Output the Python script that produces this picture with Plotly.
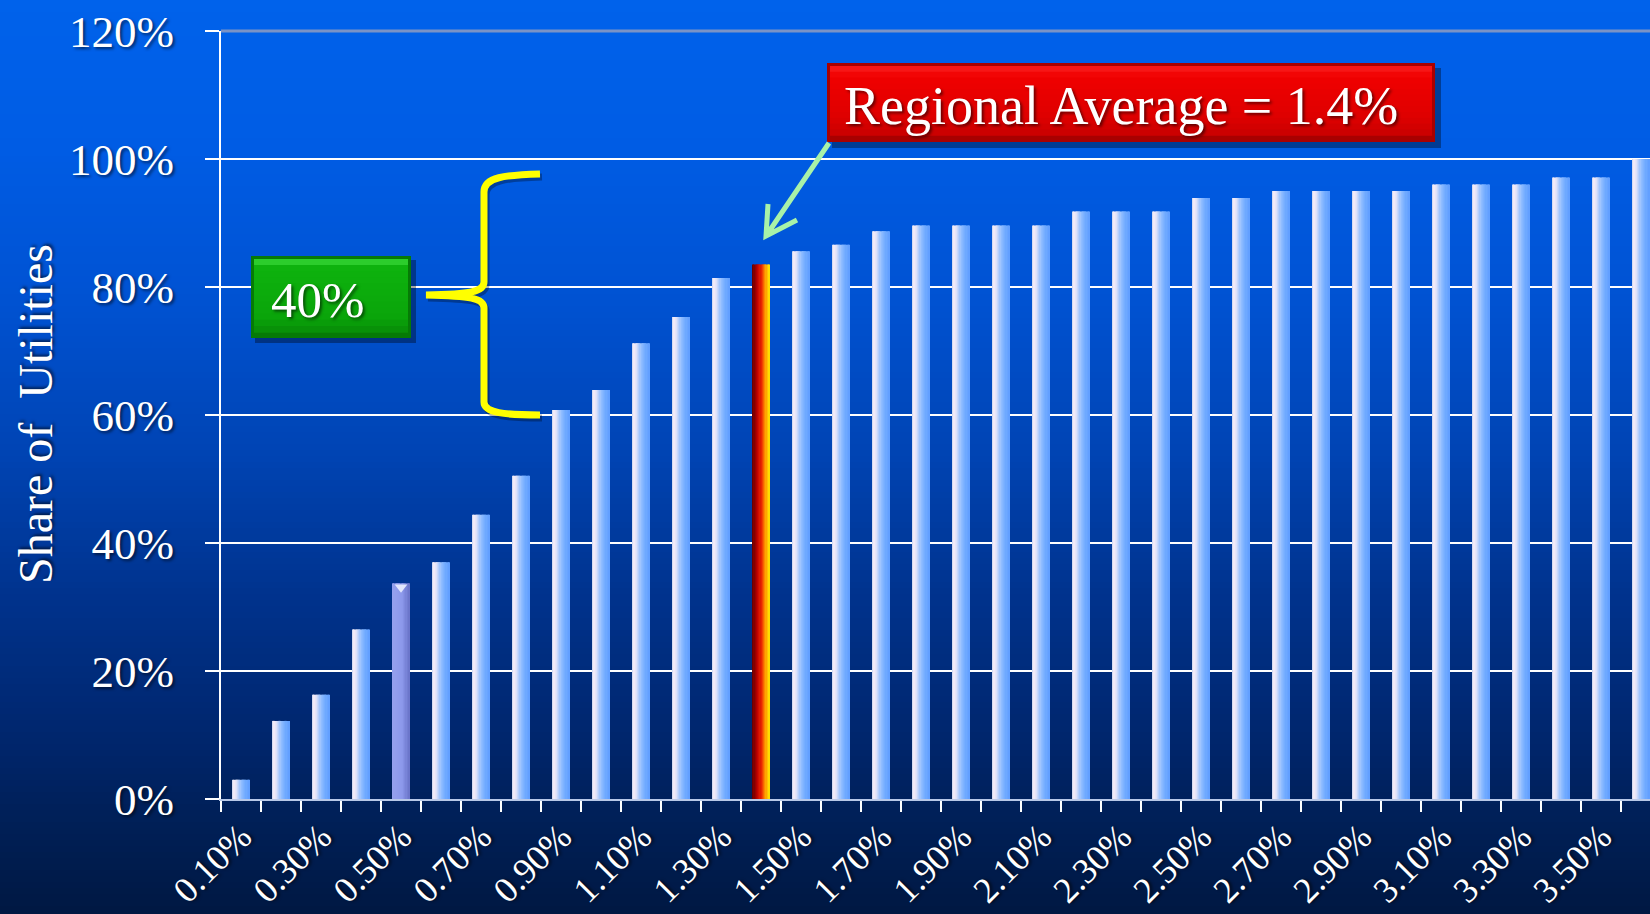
import plotly.graph_objects as go

# ---------------- data ----------------
categories = ["0.10%", "0.20%", "0.30%", "0.40%", "0.50%", "0.60%", "0.70%", "0.80%",
              "0.90%", "1.00%", "1.10%", "1.20%", "1.30%", "1.40%", "1.50%", "1.60%",
              "1.70%", "1.80%", "1.90%", "2.00%", "2.10%", "2.20%", "2.30%", "2.40%",
              "2.50%", "2.60%", "2.70%", "2.80%", "2.90%", "3.00%", "3.10%", "3.20%",
              "3.30%", "3.40%", "3.50%", "3.60%"]
share_of_utilities = [3.0, 12.2, 16.3, 26.5, 33.7, 37.0, 44.4, 50.5,
                      60.8, 63.9, 71.2, 75.3, 81.4, 83.5, 85.6, 86.6,
                      88.7, 89.6, 89.6, 89.6, 89.6, 91.8, 91.8, 91.8,
                      93.9, 93.9, 95.0, 95.0, 95.0, 95.0, 96.0, 96.0,
                      96.0, 97.1, 97.1, 100.0]
tick_labels = categories[::2]
y_ticks = [0, 20, 40, 60, 80, 100, 120]
y_tick_labels = ["0%", "20%", "40%", "60%", "80%", "100%", "120%"]
regional_avg_category = "1.40%"
marked_category = "0.50%"
callout_text = "Regional Average = 1.4%"
bracket_text = "40%"
y_title = "Share of\u00a0 Utilities"

# ---------------- geometry helpers (pixels -> paper) ----------------
W_PX, H_PX = 1650, 914
PL, PR, PT, PB = 221, 1650, 31, 799


def px(x):
    return (x - PL) / (PR - PL)


def py(y):
    return (PB - y) / (PB - PT)


def lerp_color(stops, t):
    for (t0, c0), (t1, c1) in zip(stops[:-1], stops[1:]):
        if t0 <= t <= t1:
            f = 0 if t1 == t0 else (t - t0) / (t1 - t0)
            return tuple(round(a + (b - a) * f) for a, b in zip(c0, c1))
    return stops[-1][1]


def rgb(c, a=None):
    if a is None:
        return "rgb(%d,%d,%d)" % c
    return "rgba(%d,%d,%d,%.2f)" % (c + (a,))


shapes = []

# background vertical gradient
bg_stops = [(0, (0, 98, 235)), (150, (0, 92, 228)), (300, (0, 82, 210)),
            (450, (0, 68, 180)), (600, (0, 50, 140)), (750, (0, 37, 106)),
            (800, (0, 33, 92)), (914, (0, 24, 66))]
step = 6
for row in range(0, H_PX, step):
    c = lerp_color(bg_stops, row + step / 2)
    shapes.append(dict(type="rect", xref="paper", yref="paper",
                       x0=px(0), x1=px(W_PX), y0=py(row + step + 1), y1=py(row),
                       fillcolor=rgb(c), line=dict(width=0), layer="below"))

# ---------------- bars with horizontal gradient (stripes) ----------------
normal_stops = [(0, (196, 210, 240)), (0.1, (242, 234, 248)), (0.25, (220, 225, 250)),
                (0.5, (150, 192, 255)), (0.8, (112, 170, 255)), (1, (96, 158, 255))]
red_stops = [(0, (95, 0, 0)), (0.3, (190, 0, 0)), (0.55, (235, 40, 0)), (0.78, (255, 150, 0)), (1, (255, 235, 0))]
purple_stops = [(0, (150, 160, 238)), (0.6, (140, 152, 235)), (1, (105, 115, 200))]

x_idx = list(range(len(categories)))
i_red = categories.index(regional_avg_category)
i_purple = categories.index(marked_category)

BAR_W = 0.42
N = 14
traces = []
for k in range(N):
    t = (k + 0.5) / N
    colors = []
    for i in x_idx:
        if i == i_red:
            colors.append(rgb(lerp_color(red_stops, t)))
        elif i == i_purple:
            colors.append(rgb(lerp_color(purple_stops, t)))
        else:
            colors.append(rgb(lerp_color(normal_stops, t)))
    w = BAR_W / N
    traces.append(go.Bar(x=x_idx, y=share_of_utilities, offset=-BAR_W / 2 + k * w,
                         width=w * (1.3 if k < N - 1 else 1.0),
                         marker=dict(color=colors, line=dict(width=0)),
                         hoverinfo="skip", showlegend=False))

# small notch on the marked bar
traces.append(go.Scatter(x=[i_purple], y=[share_of_utilities[i_purple] - 0.6], mode="markers",
                         marker=dict(symbol="triangle-down", size=11, color="rgba(235,240,255,0.9)",
                                     line=dict(width=0)),
                         hoverinfo="skip", showlegend=False))

fig = go.Figure(traces)

# top border line (gray)
shapes.append(dict(type="line", xref="paper", yref="paper", x0=0, x1=1, y0=1, y1=1,
                   line=dict(color="#7A93C6", width=3)))

# ---------------- callout boxes ----------------
# red box
rb = (827, 63, 1435, 142)
shapes.append(dict(type="rect", xref="paper", yref="paper", x0=px(rb[0] + 5), x1=px(rb[2] + 6),
                   y0=py(rb[3] + 6), y1=py(rb[1] + 5), fillcolor="rgba(0,0,0,0.35)", line=dict(width=0)))
shapes.append(dict(type="rect", xref="paper", yref="paper", x0=px(rb[0]), x1=px(rb[2]),
                   y0=py(rb[3]), y1=py(rb[1]), fillcolor="#A80000", line=dict(width=0)))
red_box_stops = [(0, (250, 30, 30)), (0.15, (240, 0, 0)), (0.75, (222, 0, 0)), (1, (200, 0, 0))]
nb = 12
y_top, y_bot = rb[1] + 3, rb[3] - 7
for j in range(nb):
    c = lerp_color(red_box_stops, (j + 0.5) / nb)
    ya = y_top + (y_bot - y_top) * j / nb
    yb = y_top + (y_bot - y_top) * (j + 1) / nb + 0.8
    shapes.append(dict(type="rect", xref="paper", yref="paper", x0=px(rb[0] + 3), x1=px(rb[2] - 3),
                       y0=py(yb), y1=py(ya), fillcolor=rgb(c), line=dict(width=0)))

# green box
gb = (251, 256, 411, 338)
shapes.append(dict(type="rect", xref="paper", yref="paper", x0=px(gb[0] + 4), x1=px(gb[2] + 5),
                   y0=py(gb[3] + 5), y1=py(gb[1] + 4), fillcolor="rgba(0,0,0,0.35)", line=dict(width=0)))
shapes.append(dict(type="rect", xref="paper", yref="paper", x0=px(gb[0]), x1=px(gb[2]),
                   y0=py(gb[3]), y1=py(gb[1]), fillcolor="#067A06", line=dict(width=0)))
green_stops = [(0, (60, 220, 60)), (0.12, (14, 178, 14)), (0.8, (10, 165, 10)), (1, (8, 140, 8))]
y_top, y_bot = gb[1] + 3, gb[3] - 6
for j in range(nb):
    c = lerp_color(green_stops, (j + 0.5) / nb)
    ya = y_top + (y_bot - y_top) * j / nb
    yb = y_top + (y_bot - y_top) * (j + 1) / nb + 0.8
    shapes.append(dict(type="rect", xref="paper", yref="paper", x0=px(gb[0] + 3), x1=px(gb[2] - 3),
                       y0=py(yb), y1=py(ya), fillcolor=rgb(c), line=dict(width=0)))


def path_from(cmds):
    out = []
    for cmd in cmds:
        op, pts = cmd[0], cmd[1:]
        coords = " ".join("%.5f,%.5f" % (px(pts[i]), py(pts[i + 1])) for i in range(0, len(pts), 2))
        out.append(op + " " + coords)
    return " ".join(out)


# yellow brace
brace = [("M", 540, 174), ("C", 505, 175, 484, 177, 484, 192), ("L", 484, 282),
         ("C", 484, 292, 470, 294, 426, 295), ("C", 470, 296, 484, 298, 484, 308),
         ("L", 484, 402), ("C", 484, 413, 505, 415, 540, 415)]
brace_shadow = [(c[0],) + tuple(v + (2 if n % 2 == 0 else 3) for n, v in enumerate(c[1:])) for c in brace]
shapes.append(dict(type="path", xref="paper", yref="paper", path=path_from(brace_shadow),
                   line=dict(color="rgba(0,0,0,0.3)", width=7)))
shapes.append(dict(type="path", xref="paper", yref="paper", path=path_from(brace),
                   line=dict(color="#FFFF00", width=7)))

# green arrow
arrow = [("M", 829, 143), ("L", 766, 236), ("M", 768, 204), ("L", 766, 236), ("L", 797, 220)]
shapes.append(dict(type="path", xref="paper", yref="paper", path=path_from(arrow),
                   line=dict(color="#A8F2A8", width=5)))

shadow = "2px 2px 3px rgba(0,0,0,0.55)"
annotations = [
    dict(x=px(1121), y=py(106), xref="paper", yref="paper", text=callout_text, showarrow=False,
         xanchor="center", yanchor="middle",
         font=dict(family="Liberation Serif", size=54, color="white", shadow=shadow)),
    dict(x=px(317), y=py(300), xref="paper", yref="paper", text=bracket_text, showarrow=False,
         xanchor="center", yanchor="middle",
         font=dict(family="Liberation Serif", size=51, color="white", shadow=shadow)),
    dict(x=px(35), y=py(414), xref="paper", yref="paper", text=y_title, showarrow=False,
         textangle=-90, xanchor="center", yanchor="middle",
         font=dict(family="Liberation Serif", size=48, color="white", shadow=shadow)),
]

fig.update_layout(
    width=W_PX, height=H_PX,
    margin=dict(l=PL, r=W_PX - PR, t=PT, b=H_PX - PB, pad=0),
    paper_bgcolor="#001840", plot_bgcolor="rgba(0,0,0,0)",
    barmode="overlay", showlegend=False,
    shapes=shapes, annotations=annotations,
    font=dict(family="Liberation Serif", color="white"),
)
fig.update_xaxes(
    automargin=False,
    range=[-0.5, -0.5 + (PR - PL) / 40.0],
    tickmode="array", tickvals=x_idx[::2], ticktext=tick_labels,
    tickangle=-45, tickfont=dict(family="Liberation Serif", size=36, color="white", shadow=shadow),
    ticks="", ticklabelstandoff=0,
    minor=dict(tick0=-0.5, dtick=1, ticks="outside", ticklen=11, tickwidth=2, tickcolor="white", showgrid=False),
    showline=True, linecolor="#B8C8E8", linewidth=2, showgrid=False, zeroline=False,
)
fig.update_yaxes(
    automargin=False,
    range=[0, 120], tickmode="array", tickvals=y_ticks, ticktext=y_tick_labels,
    tickfont=dict(family="Liberation Serif", size=45, color="white", shadow=shadow),
    ticks="outside", ticklen=14, tickwidth=2, tickcolor="white", ticklabelstandoff=22,
    showline=True, linecolor="white", linewidth=2,
    showgrid=True, gridcolor="white", gridwidth=2, zeroline=False,
)

fig.write_html("out.html", config={"displayModeBar": False},
               post_script="document.body.style.margin='0';document.body.style.overflow='hidden';")
